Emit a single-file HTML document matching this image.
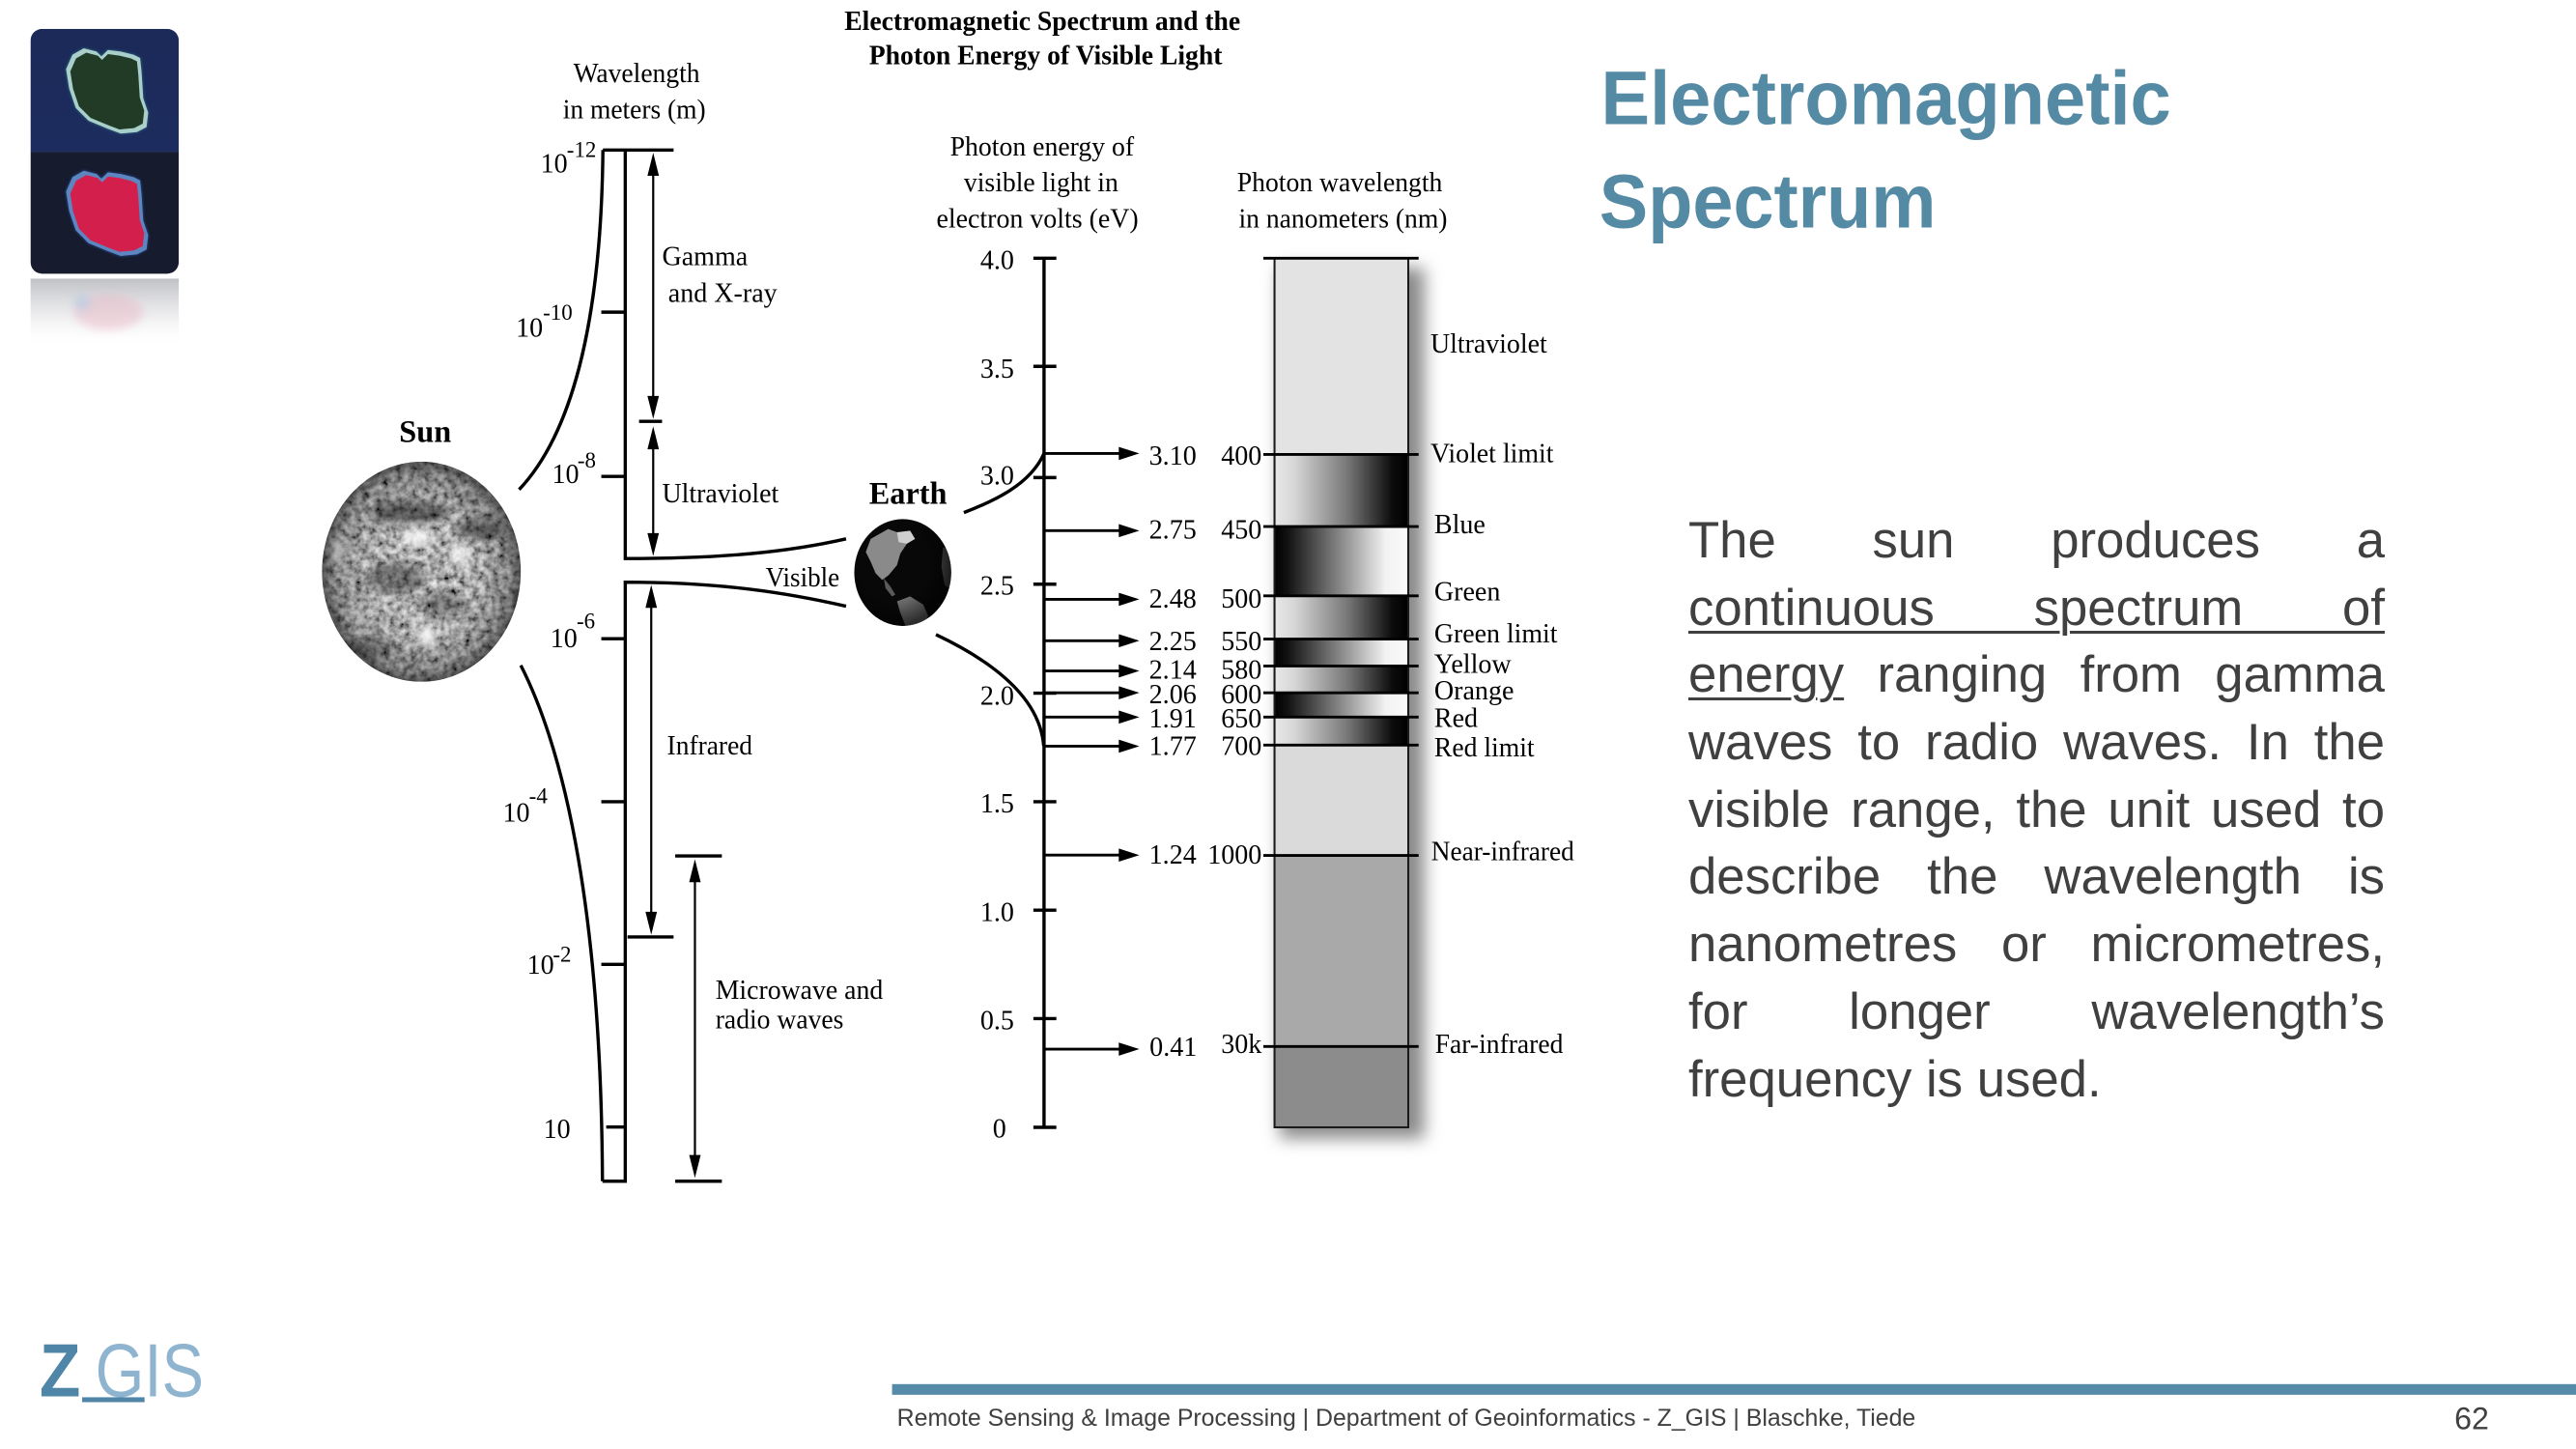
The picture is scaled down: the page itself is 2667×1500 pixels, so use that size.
<!DOCTYPE html>
<html>
<head>
<meta charset="utf-8">
<style>
html,body{margin:0;padding:0;background:#fff;}
body{width:2667px;height:1500px;overflow:hidden;position:relative;}
svg{position:absolute;left:0;top:0;}
.para{position:absolute;left:1748px;top:525px;width:721px;font-family:"Liberation Sans",sans-serif;font-size:52.7px;line-height:69.7px;color:#404040;}
.para div{height:69.7px;white-space:normal;}
.j{text-align:justify;text-align-last:justify;}
.para u{text-decoration:underline;text-decoration-thickness:3px;text-underline-offset:6px;}
</style>
</head>
<body>
<svg width="2667" height="1500" viewBox="0 0 1568 882" preserveAspectRatio="none" xmlns="http://www.w3.org/2000/svg">
<defs>
  <linearGradient id="ld" x1="0" y1="0" x2="1" y2="0">
    <stop offset="0" stop-color="#e8e8e8"/>
    <stop offset="0.15" stop-color="#d6d6d6"/>
    <stop offset="0.55" stop-color="#767676"/>
    <stop offset="0.88" stop-color="#0c0c0c"/>
    <stop offset="1" stop-color="#000"/>
  </linearGradient>
  <linearGradient id="dl" x1="0" y1="0" x2="1" y2="0">
    <stop offset="0" stop-color="#000"/>
    <stop offset="0.1" stop-color="#121212"/>
    <stop offset="0.5" stop-color="#8a8a8a"/>
    <stop offset="0.83" stop-color="#f2f2f2"/>
    <stop offset="1" stop-color="#fafafa"/>
  </linearGradient>
  <radialGradient id="limb" cx="0.5" cy="0.5" r="0.5">
    <stop offset="0.55" stop-color="#000" stop-opacity="0"/>
    <stop offset="0.88" stop-color="#000" stop-opacity="0.25"/>
    <stop offset="1" stop-color="#000" stop-opacity="0.55"/>
  </radialGradient>
  <radialGradient id="elimb" cx="0.4" cy="0.4" r="0.6">
    <stop offset="0.6" stop-color="#000" stop-opacity="0"/>
    <stop offset="1" stop-color="#000" stop-opacity="0.6"/>
  </radialGradient>
  <linearGradient id="refl" x1="0" y1="0" x2="0" y2="1">
    <stop offset="0" stop-color="#b9babf" stop-opacity="0.9"/>
    <stop offset="0.5" stop-color="#dcdde0" stop-opacity="0.6"/>
    <stop offset="1" stop-color="#ffffff" stop-opacity="0"/>
  </linearGradient>
  <linearGradient id="topbg" x1="0" y1="0" x2="0" y2="1">
    <stop offset="0" stop-color="#1b2a58"/>
    <stop offset="1" stop-color="#1c2c5e"/>
  </linearGradient>
  <filter id="noise" x="0" y="0" width="1" height="1">
    <feTurbulence type="fractalNoise" baseFrequency="0.24" numOctaves="3" seed="5" result="t"/>
    <feColorMatrix in="t" type="matrix" values="1.15 0 0 0 -0.17  1.15 0 0 0 -0.17  1.15 0 0 0 -0.17  0 0 0 0 1"/>
  </filter>
  <filter id="blur2" x="-50%" y="-50%" width="200%" height="200%"><feGaussianBlur stdDeviation="2.5"/></filter>
  <filter id="blur1" x="-50%" y="-50%" width="200%" height="200%"><feGaussianBlur stdDeviation="1"/></filter>
  <filter id="shadow" x="-30%" y="-30%" width="160%" height="160%"><feGaussianBlur stdDeviation="5"/></filter>
  <clipPath id="sunclip"><ellipse cx="256.5" cy="348" rx="60.5" ry="67"/></clipPath>
  <clipPath id="earthclip"><ellipse cx="549.5" cy="348.5" rx="29.5" ry="32.5"/></clipPath>
  <clipPath id="thumbclip"><rect x="18.6" y="17.6" width="90.2" height="149" rx="7" ry="7"/></clipPath>
  <path id="island" d="M44.1,33.3 L51,29.4 L58.8,31.4 L61.7,34.3 L65.7,30.4 L73.5,31.4 L81.3,33.3 L85.3,35.3 L86.2,44.1 L87.2,59.8 L90.2,68.6 L89.2,77.4 L83.3,80.4 L73.5,81.3 L65.7,78.4 L53.9,73.5 L46.1,65.7 L42.1,53.9 L40.2,42.1 Z"/>
</defs>

<!-- Thumbnail -->
<g clip-path="url(#thumbclip)">
  <rect x="18.6" y="17.6" width="90.2" height="74.9" fill="url(#topbg)"/>
  <rect x="18.6" y="92.4" width="90.2" height="74.5" fill="#161b2e"/>
  <use href="#island" fill="#3f8f98" opacity="0.7" filter="url(#blur1)"/>
  <use href="#island" fill="#a9cfca"/>
  <use href="#island" fill="#213b27" transform="translate(66,56) scale(0.9) translate(-66,-56)"/>
  <g transform="translate(0,74.5)">
    <use href="#island" fill="#2d64b8" opacity="0.8" filter="url(#blur1)"/>
    <use href="#island" fill="#5d86c0"/>
    <use href="#island" fill="#d31f4b" transform="translate(66,56) scale(0.9) translate(-66,-56)"/>
  </g>
</g>
<rect x="18.6" y="169.6" width="90.2" height="42" fill="url(#refl)"/>
<ellipse cx="66" cy="190" rx="21" ry="11" fill="#e9b9c6" opacity="0.5" filter="url(#blur2)"/>
<ellipse cx="50" cy="184" rx="5" ry="5" fill="#a9c9e6" opacity="0.5" filter="url(#blur2)"/>

<!-- Diagram title -->
<g font-family="Liberation Serif, serif" font-weight="bold" font-size="16.5" fill="#000">
  <text x="514" y="18.3" textLength="241" lengthAdjust="spacingAndGlyphs">Electromagnetic Spectrum and the</text>
  <text x="529" y="39" textLength="215" lengthAdjust="spacingAndGlyphs">Photon Energy of Visible Light</text>
</g>

<!-- Sun -->
<g clip-path="url(#sunclip)">
  <rect x="190" y="275" width="135" height="145" fill="#777" filter="url(#noise)"/>
  <ellipse cx="250" cy="312" rx="24" ry="7" fill="#111" opacity="0.5" filter="url(#blur2)"/>
  <ellipse cx="292" cy="322" rx="15" ry="6" fill="#111" opacity="0.45" filter="url(#blur2)"/>
  <ellipse cx="240" cy="352" rx="18" ry="9" fill="#111" opacity="0.4" filter="url(#blur2)"/>
  <ellipse cx="270" cy="368" rx="14" ry="7" fill="#111" opacity="0.35" filter="url(#blur2)"/>
  <ellipse cx="225" cy="395" rx="16" ry="6" fill="#111" opacity="0.3" filter="url(#blur2)"/>
  <ellipse cx="205" cy="335" rx="4" ry="7" fill="#fff" opacity="0.8" filter="url(#blur2)"/>
  <ellipse cx="254" cy="327" rx="9" ry="6" fill="#fff" opacity="0.8" filter="url(#blur2)"/>
  <ellipse cx="280" cy="338" rx="6" ry="6" fill="#fff" opacity="0.8" filter="url(#blur2)"/>
  <ellipse cx="221" cy="377" rx="5" ry="4" fill="#fff" opacity="0.55" filter="url(#blur2)"/>
  <ellipse cx="260" cy="388" rx="6" ry="6" fill="#fff" opacity="0.9" filter="url(#blur2)"/>
  <ellipse cx="256.5" cy="348" rx="60.5" ry="67" fill="url(#limb)"/>
</g>
<text x="243" y="269" font-family="Liberation Serif, serif" font-weight="bold" font-size="19">Sun</text>

<!-- Earth -->
<ellipse cx="549.5" cy="348.5" rx="29.5" ry="32.5" fill="#080808"/>
<g clip-path="url(#earthclip)">
  <path d="M530,328 L540.6,322 L549,325 L552,331 L548,337 L546,344 L541,350 L537,353 L533,349 L530,342 L527,336 Z" fill="#8a8a8a"/>
  <path d="M546,324 L554,323 L557,328 L552,331 L547,330 Z" fill="#cfcfcf"/>
  <path d="M538,352 L542,357 L545,362 L543,363 L539,358 Z" fill="#5a5a5a"/>
  <path d="M546,366 L554,363 L562,368 L565,375 L560,383 L552,383 L548,373 Z" fill="#707070"/>
  <path d="M574,333 L580,335 L580,360 L575,356 L573,345 Z" fill="#4a4a4a"/>
  <ellipse cx="549.5" cy="348.5" rx="29.5" ry="32.5" fill="url(#elimb)"/>
</g>
<text x="529" y="306.6" font-family="Liberation Serif, serif" font-weight="bold" font-size="19">Earth</text>

<!-- Left wavelength scale -->
<g fill="none" stroke="#000" stroke-width="2">
  <path d="M367,91.3 L410,91.3"/>
  <path d="M380.6,91.3 L380.6,340 C440,340 480,336 515,328"/>
  <path d="M515,369 C480,361 440,354.4 380.6,354.4 L380.6,719 L366.7,719"/>
  <path d="M316,298 C350,262 366,190 367,91.3"/>
  <path d="M317,405 C345,460 366,560 366.7,719"/>
  <path d="M366,190 L380.6,190 M366,290 L380.6,290 M366,388.8 L380.6,388.8 M366,488 L380.6,488 M366,587 L380.6,587 M369,686 L380.6,686"/>
  <path d="M389,256.5 L403,256.5 M382,570.3 L410,570.3 M411,521 L439.4,521 M411,719 L439.4,719"/>
</g>
<g stroke="#000" stroke-width="1.3">
  <line x1="397.6" y1="100" x2="397.6" y2="248"/>
  <line x1="397.6" y1="266" x2="397.6" y2="330"/>
  <line x1="396.4" y1="362" x2="396.4" y2="562"/>
  <line x1="423" y1="530" x2="423" y2="710"/>
</g>
<g fill="#000">
  <polygon points="397.6,93 394.1,107 401.1,107"/>
  <polygon points="397.6,255 394.1,241 401.1,241"/>
  <polygon points="397.6,259.5 394.1,273.5 401.1,273.5"/>
  <polygon points="397.6,338.5 394.1,324.5 401.1,324.5"/>
  <polygon points="396.4,356 392.9,370 399.9,370"/>
  <polygon points="396.4,569 392.9,555 399.9,555"/>
  <polygon points="423,523 419.5,537 426.5,537"/>
  <polygon points="423,717 419.5,703 426.5,703"/>
</g>
<g font-family="Liberation Serif, serif" font-size="16.5" fill="#000">
  <text x="349" y="50" textLength="77" lengthAdjust="spacingAndGlyphs">Wavelength</text>
  <text x="342.6" y="72" textLength="87" lengthAdjust="spacingAndGlyphs">in meters (m)</text>
  <text x="403" y="161.4">Gamma</text>
  <text x="406.7" y="183.8">and X-ray</text>
  <text x="403" y="305.8" textLength="71" lengthAdjust="spacingAndGlyphs">Ultraviolet</text>
  <text x="466" y="357" textLength="45" lengthAdjust="spacingAndGlyphs">Visible</text>
  <text x="406" y="459.2" textLength="52" lengthAdjust="spacingAndGlyphs">Infrared</text>
  <text x="435.5" y="608" textLength="102" lengthAdjust="spacingAndGlyphs">Microwave and</text>
  <text x="435.5" y="626" textLength="78" lengthAdjust="spacingAndGlyphs">radio waves</text>

  <text x="329" y="105">10</text><text x="345" y="95.5" font-size="13.5">-12</text>
  <text x="314" y="205">10</text><text x="330.5" y="194.5" font-size="13.5">-10</text>
  <text x="336" y="294">10</text><text x="351.5" y="284.5" font-size="13.5">-8</text>
  <text x="335" y="394">10</text><text x="351" y="382.5" font-size="13.5">-6</text>
  <text x="306" y="500">10</text><text x="322" y="489" font-size="13.5">-4</text>
  <text x="320.8" y="592.7">10</text><text x="336.5" y="585.4" font-size="13.5">-2</text>
  <text x="330.8" y="692.7">10</text>
</g>

<!-- Energy axis -->
<g font-family="Liberation Serif, serif" font-size="16.5" fill="#000">
  <text x="578.3" y="94.6" textLength="112" lengthAdjust="spacingAndGlyphs">Photon energy of</text>
  <text x="586.7" y="116.5" textLength="94" lengthAdjust="spacingAndGlyphs">visible light in</text>
  <text x="570" y="138.4" textLength="123" lengthAdjust="spacingAndGlyphs">electron volts (eV)</text>
  <text x="753" y="116.5" textLength="125" lengthAdjust="spacingAndGlyphs">Photon wavelength</text>
  <text x="754" y="138.4" textLength="127" lengthAdjust="spacingAndGlyphs">in nanometers (nm)</text>
</g>
<g stroke="#000" stroke-width="2" fill="none">
  <line x1="635.5" y1="157.2" x2="635.5" y2="686.2"/>
  <path d="M629,157.2 L643,157.2 M629,223 L643,223 M629,290.7 L643,290.7 M629,355.6 L643,355.6 M629,421.9 L643,421.9 M629,488 L643,488 M629,554 L643,554 M629,620 L643,620 M629,686.2 L643,686.2"/>
  <path d="M586.7,312 C605,305 627,295 635.5,276"/>
  <path d="M569.7,386.3 C605,403 633,425 635.3,454"/>
</g>
<g stroke="#000" stroke-width="1.7">
  <line x1="635.5" y1="276" x2="683" y2="276"/>
  <line x1="635.5" y1="323" x2="683" y2="323"/>
  <line x1="635.5" y1="364.8" x2="683" y2="364.8"/>
  <line x1="635.5" y1="390" x2="683" y2="390"/>
  <line x1="635.5" y1="408.4" x2="683" y2="408.4"/>
  <line x1="635.5" y1="421.7" x2="683" y2="421.7"/>
  <line x1="635.5" y1="436.5" x2="683" y2="436.5"/>
  <line x1="635.5" y1="454.2" x2="683" y2="454.2"/>
  <line x1="635.5" y1="520.5" x2="683" y2="520.5"/>
  <line x1="635.5" y1="638.6" x2="683" y2="638.6"/>
</g>
<g fill="#000">
  <polygon points="681,272 693.5,276 681,280"/>
  <polygon points="681,319 693.5,323 681,327"/>
  <polygon points="681,360.8 693.5,364.8 681,368.8"/>
  <polygon points="681,386 693.5,390 681,394"/>
  <polygon points="681,404.4 693.5,408.4 681,412.4"/>
  <polygon points="681,417.7 693.5,421.7 681,425.7"/>
  <polygon points="681,432.5 693.5,436.5 681,440.5"/>
  <polygon points="681,450.2 693.5,454.2 681,458.2"/>
  <polygon points="681,516.5 693.5,520.5 681,524.5"/>
  <polygon points="681,634.6 693.5,638.6 681,642.6"/>
</g>
<g font-family="Liberation Serif, serif" font-size="16.5" fill="#000" text-anchor="end">
  <text x="617.3" y="163.8">4.0</text>
  <text x="617.3" y="230">3.5</text>
  <text x="617.3" y="294.9">3.0</text>
  <text x="617.3" y="361.9">2.5</text>
  <text x="617.3" y="429">2.0</text>
  <text x="617.3" y="494.4">1.5</text>
  <text x="617.3" y="560.7">1.0</text>
  <text x="617.3" y="626.5">0.5</text>
  <text x="612.5" y="692.5">0</text>

  <text x="728.3" y="282.7">3.10</text>
  <text x="728.3" y="327.8">2.75</text>
  <text x="728.3" y="370">2.48</text>
  <text x="728.3" y="395.6">2.25</text>
  <text x="728.3" y="413">2.14</text>
  <text x="728.3" y="428">2.06</text>
  <text x="728.3" y="442.8">1.91</text>
  <text x="728.3" y="459.6">1.77</text>
  <text x="728.3" y="525.8">1.24</text>
  <text x="728.6" y="642.7">0.41</text>

  <text x="768" y="282.7">400</text>
  <text x="768" y="327.8">450</text>
  <text x="768" y="370">500</text>
  <text x="768" y="395.6">550</text>
  <text x="768" y="413">580</text>
  <text x="768" y="428">600</text>
  <text x="768" y="442.8">650</text>
  <text x="768" y="459.6">700</text>
  <text x="768" y="525.8">1000</text>
  <text x="768" y="640.9">30k</text>
</g>

<!-- Spectrum bar -->
<rect x="779" y="163" width="88" height="530" fill="#8a8a8a" filter="url(#shadow)"/>
<rect x="775.8" y="157.2" width="81.4" height="119.4" fill="#e3e3e3"/>
<rect x="775.8" y="276.6" width="81.4" height="43.9" fill="url(#ld)"/>
<rect x="775.8" y="320.5" width="81.4" height="42.2" fill="url(#dl)"/>
<rect x="775.8" y="362.7" width="81.4" height="26.3" fill="url(#ld)"/>
<rect x="775.8" y="389" width="81.4" height="16.4" fill="url(#dl)"/>
<rect x="775.8" y="405.4" width="81.4" height="16.3" fill="url(#ld)"/>
<rect x="775.8" y="421.7" width="81.4" height="14.8" fill="url(#dl)"/>
<rect x="775.8" y="436.5" width="81.4" height="17" fill="url(#ld)"/>
<rect x="775.8" y="453.5" width="81.4" height="67.2" fill="#dadada"/>
<rect x="775.8" y="520.7" width="81.4" height="116.3" fill="#a9a9a9"/>
<rect x="775.8" y="637" width="81.4" height="49.2" fill="#8c8c8c"/>
<rect x="775.8" y="157.2" width="81.4" height="529" fill="none" stroke="#1a1a1a" stroke-width="1.2"/>
<g stroke="#000" stroke-width="1.7">
  <line x1="769" y1="157.2" x2="863.5" y2="157.2"/>
  <line x1="769" y1="276.6" x2="863.5" y2="276.6"/>
  <line x1="769" y1="320.5" x2="863.5" y2="320.5"/>
  <line x1="769" y1="362.7" x2="863.5" y2="362.7"/>
  <line x1="769" y1="389" x2="863.5" y2="389"/>
  <line x1="769" y1="405.4" x2="863.5" y2="405.4"/>
  <line x1="769" y1="421.7" x2="863.5" y2="421.7"/>
  <line x1="769" y1="436.5" x2="863.5" y2="436.5"/>
  <line x1="769" y1="453.5" x2="863.5" y2="453.5"/>
  <line x1="769" y1="520.7" x2="863.5" y2="520.7"/>
  <line x1="769" y1="637" x2="863.5" y2="637"/>
</g>
<g font-family="Liberation Serif, serif" font-size="16.5" fill="#000">
  <text x="870.7" y="214.5" textLength="71" lengthAdjust="spacingAndGlyphs">Ultraviolet</text>
  <text x="870.7" y="281.5" textLength="75" lengthAdjust="spacingAndGlyphs">Violet limit</text>
  <text x="873" y="324.6">Blue</text>
  <text x="873" y="365.5">Green</text>
  <text x="873" y="391" textLength="75" lengthAdjust="spacingAndGlyphs">Green limit</text>
  <text x="873" y="409.6">Yellow</text>
  <text x="873" y="425.8">Orange</text>
  <text x="873" y="442.6">Red</text>
  <text x="873" y="460.3" textLength="61" lengthAdjust="spacingAndGlyphs">Red limit</text>
  <text x="871.2" y="523.5" textLength="87" lengthAdjust="spacingAndGlyphs">Near-infrared</text>
  <text x="873.5" y="640.9" textLength="78" lengthAdjust="spacingAndGlyphs">Far-infrared</text>
</g>

<!-- Slide title -->
<g font-family="Liberation Sans, sans-serif" font-weight="bold" font-size="46.5" fill="#558aa5">
  <text x="974.5" y="75.6" textLength="347" lengthAdjust="spacingAndGlyphs">Electromagnetic</text>
  <text x="973.5" y="138.5" textLength="205" lengthAdjust="spacingAndGlyphs">Spectrum</text>
</g>

<!-- Footer -->
<rect x="543" y="842.5" width="1025" height="6.5" fill="#558aa8"/>
<text x="546" y="868" font-family="Liberation Sans, sans-serif" font-size="14.5" fill="#404040" textLength="620" lengthAdjust="spacingAndGlyphs">Remote Sensing &amp; Image Processing | Department of Geoinformatics - Z_GIS | Blaschke, Tiede</text>
<text x="1494" y="870" font-family="Liberation Sans, sans-serif" font-size="19" fill="#404040" textLength="21" lengthAdjust="spacingAndGlyphs">62</text>

<!-- Z_GIS logo -->
<text x="24" y="850" font-family="Liberation Sans, sans-serif" font-weight="bold" font-size="46" fill="#4f86a7" textLength="25" lengthAdjust="spacingAndGlyphs">Z</text>
<text x="58" y="850" font-family="Liberation Sans, sans-serif" font-size="46" fill="#8fb4cf" textLength="66" lengthAdjust="spacingAndGlyphs">GIS</text>
<rect x="50" y="850.5" width="38" height="3" fill="#4f86a7"/>
</svg>

<div class="para">
  <div class="j">The sun produces a</div>
  <div class="j"><u>continuous spectrum of</u></div>
  <div class="j"><u>energy</u> ranging from gamma</div>
  <div class="j">waves to radio waves. In the</div>
  <div class="j">visible range, the unit used to</div>
  <div class="j">describe the wavelength is</div>
  <div class="j">nanometres or micrometres,</div>
  <div class="j">for longer wavelength’s</div>
  <div>frequency is used.</div>
</div>
</body>
</html>
